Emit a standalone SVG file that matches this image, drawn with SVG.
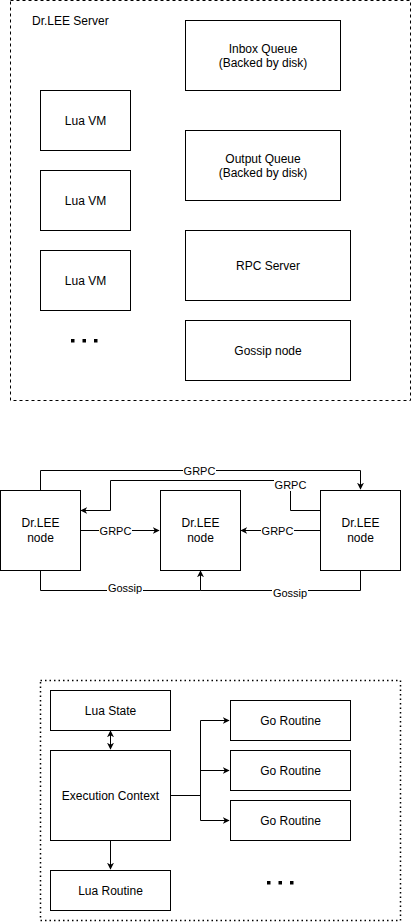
<svg xmlns="http://www.w3.org/2000/svg" width="412" height="923" viewBox="0 0 412 923">
<defs>
<marker id="arr" viewBox="0 0 10 10" refX="9" refY="5" markerWidth="7" markerHeight="7" orient="auto-start-reverse" markerUnits="userSpaceOnUse">
<path d="M0,0 L10,5 L0,10 L3,5 z" fill="#000"/>
</marker>
<style>
.box{fill:#fff;stroke:#000;stroke-width:1}
.t{font-family:"Liberation Sans",Arial,sans-serif;font-size:12px;fill:#000;text-anchor:middle;dominant-baseline:central}
.lbl{font-family:"Liberation Sans",Arial,sans-serif;font-size:11px;fill:#000;text-anchor:middle;dominant-baseline:central}
.ln{fill:none;stroke:#000;stroke-width:1}
.bg{fill:#fff}
.dot{fill:#000}
</style>
</defs>
<rect width="412" height="923" fill="#fff"/>

<g id="server">
<rect x="10.5" y="0.5" width="400" height="400" fill="none" stroke="#000" stroke-dasharray="3,3"/>
<text x="32" y="21" class="t" style="text-anchor:start">Dr.LEE Server</text>
</g>
<g id="inbox"><rect class="box" x="185.5" y="20.5" width="155" height="70"/><text class="t" x="263" y="49">Inbox Queue</text><text class="t" x="263" y="63">(Backed by disk)</text></g>
<g id="luavm1"><rect class="box" x="40.5" y="90.5" width="90" height="60"/><text class="t" x="85.5" y="120.5">Lua VM</text></g>
<g id="luavm2"><rect class="box" x="40.5" y="170.5" width="90" height="60"/><text class="t" x="85.5" y="200.5">Lua VM</text></g>
<g id="luavm3"><rect class="box" x="40.5" y="250.5" width="90" height="60"/><text class="t" x="85.5" y="280.5">Lua VM</text></g>
<g id="output"><rect class="box" x="185.5" y="130.5" width="155" height="70"/><text class="t" x="263" y="159">Output Queue</text><text class="t" x="263" y="173">(Backed by disk)</text></g>
<g id="rpc"><rect class="box" x="185.5" y="230.5" width="165" height="70"/><text class="t" x="268" y="265.5">RPC Server</text></g>
<g id="gossip"><rect class="box" x="185.5" y="320.5" width="165" height="60"/><text class="t" x="268" y="350.5">Gossip node</text></g>
<g id="ellipsis1"><rect class="dot" x="71" y="339" width="3.5" height="3.5"/><rect class="dot" x="82.5" y="339" width="3.5" height="3.5"/><rect class="dot" x="94" y="339" width="3.5" height="3.5"/></g>

<g id="connectors">
<path class="ln" d="M40.5,490 V470.5 H360.5 V489" marker-end="url(#arr)"/>
<path class="ln" d="M320,510.5 H290.5 V480.5 H110.5 V510.5 H81" marker-end="url(#arr)"/>
<path class="ln" d="M80,530.5 H159" marker-end="url(#arr)"/>
<path class="ln" d="M320,530.5 H241" marker-end="url(#arr)"/>
<path class="ln" d="M40.5,570 V590.5 H200.5 V571" marker-end="url(#arr)"/>
<path class="ln" d="M360.5,570 V590.5 H200.5"/>
<path class="ln" d="M110.5,731 V749" marker-start="url(#arr)" marker-end="url(#arr)"/>
<path class="ln" d="M110.5,840 V869" marker-end="url(#arr)"/>
<path class="ln" d="M170,795.5 H200.5 M200.5,720.5 V820.5"/>
<path class="ln" d="M200.5,720.5 H229" marker-end="url(#arr)"/>
<path class="ln" d="M200.5,770.5 H229" marker-end="url(#arr)"/>
<path class="ln" d="M200.5,820.5 H229" marker-end="url(#arr)"/>
<rect class="bg" x="183" y="464" width="33" height="13"/><text class="lbl" x="199.5" y="470.5">GRPC</text>
<rect class="bg" x="274" y="478" width="33" height="13"/><text class="lbl" x="290.5" y="484.5">GRPC</text>
<rect class="bg" x="99" y="524" width="33" height="13"/><text class="lbl" x="115.5" y="530.5">GRPC</text>
<rect class="bg" x="261" y="524" width="33" height="13"/><text class="lbl" x="277.5" y="530.5">GRPC</text>
<rect class="bg" x="107" y="582" width="36" height="13"/><text class="lbl" x="125" y="588">Gossip</text>
<rect class="bg" x="272" y="586" width="36" height="13"/><text class="lbl" x="290" y="592.5">Gossip</text>
</g>

<g id="nodeL"><rect class="box" x="0.5" y="490.5" width="80" height="80"/><text class="t" x="40.5" y="523">Dr.LEE</text><text class="t" x="40.5" y="538">node</text></g>
<g id="nodeC"><rect class="box" x="160.5" y="490.5" width="80" height="80"/><text class="t" x="200.5" y="523">Dr.LEE</text><text class="t" x="200.5" y="538">node</text></g>
<g id="nodeR"><rect class="box" x="320.5" y="490.5" width="80" height="80"/><text class="t" x="360.5" y="523">Dr.LEE</text><text class="t" x="360.5" y="538">node</text></g>

<g id="runtime"><rect x="40.5" y="680.5" width="360" height="240" fill="none" stroke="#000" stroke-width="1.5" stroke-dasharray="1.5,3"/></g>
<g id="luastate"><rect class="box" x="50.5" y="690.5" width="120" height="40"/><text class="t" x="110.5" y="710.5">Lua State</text></g>
<g id="exec"><rect class="box" x="50.5" y="750.5" width="120" height="90"/><text class="t" x="110.5" y="795.5">Execution Context</text></g>
<g id="luaroutine"><rect class="box" x="50.5" y="870.5" width="120" height="40"/><text class="t" x="110.5" y="890.5">Lua Routine</text></g>
<g id="go1"><rect class="box" x="230.5" y="700.5" width="120" height="40"/><text class="t" x="290.5" y="720.5">Go Routine</text></g>
<g id="go2"><rect class="box" x="230.5" y="750.5" width="120" height="40"/><text class="t" x="290.5" y="770.5">Go Routine</text></g>
<g id="go3"><rect class="box" x="230.5" y="800.5" width="120" height="40"/><text class="t" x="290.5" y="820.5">Go Routine</text></g>
<g id="ellipsis2"><rect class="dot" x="267" y="881" width="3.5" height="3.5"/><rect class="dot" x="278.5" y="881" width="3.5" height="3.5"/><rect class="dot" x="290" y="881" width="3.5" height="3.5"/></g>
</svg>
